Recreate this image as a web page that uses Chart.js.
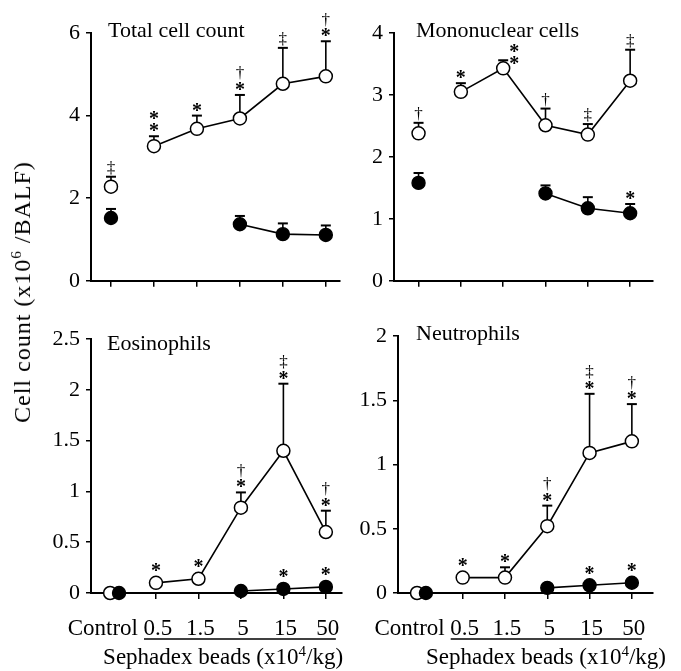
<!DOCTYPE html>
<html>
<head>
<meta charset="utf-8">
<script src="https://cdn.jsdelivr.net/npm/chart.js@4.4.0/dist/chart.umd.min.js"></script>
<style>
  body { margin: 0; background: #fff; }
  #wrap { position: relative; width: 681px; height: 671px; overflow: hidden; background: #fff; }
  #wrap canvas { position: absolute; }
  #ytitle {
    position: absolute; left: 22px; top: 292px;
    transform: translate(-50%, -50%) rotate(-90deg);
    font: 24px "Liberation Serif"; letter-spacing: 1px; white-space: nowrap; color: #000;
  }
  #ytitle sup { font-size: 15px; }
</style>
</head>
<body>
<div id="wrap">
  <canvas id="c1" width="350" height="300" style="left:0;top:0"></canvas>
  <canvas id="c2" width="331" height="300" style="left:350px;top:0"></canvas>
  <canvas id="c3" width="350" height="371" style="left:0;top:300px"></canvas>
  <canvas id="c4" width="331" height="371" style="left:350px;top:300px"></canvas>
  <div id="ytitle">Cell count (x10<sup>6</sup> /BALF)</div>
</div>
<script>
// x categories
var doseLabels = ['Control', '0.5', '1.5', '5', '15', '50'];
var doseIndex = [0, 1, 2, 3, 4, 5];

// total cell count
var totalOpen = [2.28, 3.26, 3.68, 3.93, 4.77, 4.95];
var totalOpenErr = [2.52, 3.50, 4.00, 4.50, 5.64, 5.80];
var totalFilled = [1.52, null, null, 1.37, 1.13, 1.11];
var totalFilledErr = [1.74, null, null, 1.57, 1.39, 1.34];
var totalOpenMarks = ['‡', '**', '*', '†*', '‡', '†*'];
var totalFilledMarks = ['', '', '', '', '', ''];

// mononuclear cells
var monoOpen = [2.38, 3.05, 3.43, 2.51, 2.36, 3.23];
var monoOpenErr = [2.55, 3.19, 3.56, 2.78, 2.53, 3.73];
var monoFilled = [1.58, null, null, 1.41, 1.17, 1.09];
var monoFilledErr = [1.74, null, null, 1.54, 1.35, 1.24];
var monoOpenMarks = ['†', '*', '**', '†', '‡', '‡'];
var monoFilledMarks = ['', '', '', '', '', '*'];

// eosinophils
var eosOpen = [0, 0.10, 0.14, 0.84, 1.40, 0.60];
var eosOpenErr = [null, null, null, 0.99, 2.06, 0.81];
var eosFilled = [0, null, null, 0.02, 0.04, 0.06];
var eosFilledErr = [null, null, null, null, null, null];
var eosOpenMarks = ['', '*', '*', '†*', '‡*', '†*'];
var eosFilledMarks = ['', '', '', '', '*', '*'];

// neutrophils
var neuOpen = [0, 0.12, 0.12, 0.52, 1.09, 1.18];
var neuOpenErr = [null, null, 0.20, 0.68, 1.55, 1.47];
var neuFilled = [0, null, null, 0.04, 0.06, 0.08];
var neuFilledErr = [null, null, null, null, null, null];
var neuOpenMarks = ['', '*', '*', '†*', '‡*', '†*'];
var neuFilledMarks = ['', '', '', '', '*', '*'];

var FONT = '"Liberation Serif", "Times New Roman", serif';
var panelInfo = {};   // canvas id -> extra drawing settings

function points(values, jitter) {
  return values.map(function(v, i) {
    return { x: doseIndex[i] + (i === 0 ? jitter : 0), y: v };
  });
}

function drawSup(ctx, parts, cx, y) {
  // parts: [text, superscript, text]
  ctx.font = '23px ' + FONT;
  var w0 = ctx.measureText(parts[0]).width, w2 = ctx.measureText(parts[2]).width;
  ctx.font = '15px ' + FONT;
  var w1 = ctx.measureText(parts[1]).width;
  var x = cx - (w0 + w1 + w2) / 2;
  ctx.textAlign = 'left';
  ctx.textBaseline = 'alphabetic';
  ctx.font = '23px ' + FONT;
  ctx.fillText(parts[0], x, y);
  ctx.font = '15px ' + FONT;
  ctx.fillText(parts[1], x + w0, y - 8);
  ctx.font = '23px ' + FONT;
  ctx.fillText(parts[2], x + w0 + w1, y);
}

var extras = {
  id: 'extras',
  beforeDatasetsDraw: function(chart) {
    var cfg = panelInfo[chart.canvas.id];
    var ctx = chart.ctx, xs = chart.scales.x, ys = chart.scales.y;
    ctx.save();
    ctx.strokeStyle = '#000';
    cfg.series.forEach(function(s) {
      s.values.forEach(function(v, i) {
        var e = s.err[i];
        if (v == null || e == null) return;
        var px = xs.getPixelForValue(doseIndex[i] + (i === 0 ? s.jitter : 0));
        var py = ys.getPixelForValue(v), pe = ys.getPixelForValue(e);
        ctx.lineWidth = 1.6;
        ctx.beginPath(); ctx.moveTo(px, py); ctx.lineTo(px, pe); ctx.stroke();
        ctx.lineWidth = 2;
        ctx.beginPath(); ctx.moveTo(px - 5, pe); ctx.lineTo(px + 5, pe); ctx.stroke();
      });
    });
    ctx.restore();
  },
  afterDatasetsDraw: function(chart) {
    var cfg = panelInfo[chart.canvas.id];
    var ctx = chart.ctx, xs = chart.scales.x, ys = chart.scales.y, area = chart.chartArea;
    ctx.save();
    ctx.fillStyle = '#000';
    // significance marks above the points
    ctx.textAlign = 'center';
    ctx.textBaseline = 'alphabetic';
    cfg.series.forEach(function(s) {
      s.values.forEach(function(v, i) {
        var m = s.marks[i];
        if (v == null || !m) return;
        var px = xs.getPixelForValue(doseIndex[i] + (i === 0 ? s.jitter : 0));
        var top = s.err[i] != null ? ys.getPixelForValue(s.err[i]) : ys.getPixelForValue(v) - 6.5;
        var cy = top - 9;
        if (s.shift && s.shift.index === i) { px += s.shift.dx; cy += s.shift.dy; }
        for (var k = m.length - 1; k >= 0; k--) {
          var ch = m[k];
          ctx.font = (ch === '*' ? 'bold 20px ' : '17px ') + FONT;
          var tm = ctx.measureText(ch);
          var off = (tm.actualBoundingBoxAscent - tm.actualBoundingBoxDescent) / 2;
          ctx.fillText(ch, px, cy + off);
          cy -= 12.5;
        }
      });
    });
    // panel title
    ctx.font = '22px ' + FONT;
    ctx.textAlign = 'left';
    ctx.fillText(cfg.title, area.left + cfg.titleDx, area.top + cfg.titleDy);
    // dose labels, bracket and axis name under the bottom row
    if (cfg.bottomRow) {
      var yl = area.bottom + 42;
      ctx.font = '23px ' + FONT;
      doseLabels.forEach(function(lab, i) {
        if (i === 0) {
          ctx.textAlign = 'right';
          ctx.fillText(lab, xs.getPixelForValue(doseIndex[1]) - 18, yl);
        } else {
          ctx.textAlign = 'center';
          ctx.fillText(lab, xs.getPixelForValue(doseIndex[i]) + 2, yl);
        }
      });
      var y0 = area.bottom + 46;
      ctx.strokeStyle = '#000';
      ctx.lineWidth = 1.3;
      ctx.beginPath();
      ctx.moveTo(xs.getPixelForValue(1) - 12, y0);
      ctx.lineTo(xs.getPixelForValue(5) + 10, y0);
      ctx.stroke();
      drawSup(ctx, ['Sephadex beads (x10', '4', '/kg)'], xs.getPixelForValue(cfg.nameAt), area.bottom + 71);
    }
    ctx.restore();
  }
};

function makeChart(id, p) {
  panelInfo[id] = {
    title: p.title, titleDx: p.titleDx, titleDy: p.titleDy, bottomRow: p.bottomRow, nameAt: p.nameAt,
    series: [
      { values: p.filled, err: p.filledErr, marks: p.filledMarks, jitter: p.jitter[1], shift: null },
      { values: p.open, err: p.openErr, marks: p.openMarks, jitter: p.jitter[0], shift: p.shift || null }
    ]
  };
  return new Chart(document.getElementById(id), {
    type: 'line',
    data: {
      datasets: [{
        data: points(p.filled, p.jitter[1]),
        borderColor: '#000', borderWidth: 1.6,
        pointRadius: 6.5, pointBackgroundColor: '#000', pointBorderColor: '#000', pointBorderWidth: 1.4,
        spanGaps: false, clip: false, tension: 0
      }, {
        data: points(p.open, p.jitter[0]),
        borderColor: '#000', borderWidth: 1.6,
        pointRadius: 6.5, pointBackgroundColor: '#fff', pointBorderColor: '#000', pointBorderWidth: 1.5,
        segment: {
          borderColor: function(c) { return c.p0DataIndex === 0 ? 'rgba(0,0,0,0)' : '#000'; }
        },
        spanGaps: false, clip: false, tension: 0
      }]
    },
    options: {
      responsive: false,
      animation: false,
      layout: { padding: p.pad },
      plugins: {
        legend: { display: false },
        tooltip: { enabled: false }
      },
      scales: {
        x: {
          type: 'linear', min: p.xmin, max: p.xmax,
          afterBuildTicks: function(s) { s.ticks = doseIndex.map(function(v) { return { value: v }; }); },
          afterFit: function(s) { s.height = p.xHeight; },
          grid: { drawOnChartArea: false, drawTicks: true, tickLength: 6, color: '#000', lineWidth: 1.5 },
          border: { display: true, color: '#000', width: 2 },
          ticks: { display: false }
        },
        y: {
          type: 'linear', min: 0, max: p.ymax,
          afterFit: function(s) { s.width = p.yWidth; },
          grid: { drawOnChartArea: false, drawTicks: true, tickLength: 5, color: '#000', lineWidth: 1.5 },
          border: { display: true, color: '#000', width: 2 },
          ticks: {
            stepSize: p.step, color: '#000', padding: 6, font: { family: FONT, size: 22 },
            callback: function(v) { return String(v); }
          }
        }
      }
    },
    plugins: [extras]
  });
}

makeChart('c1', {
  title: 'Total cell count', titleDx: 17, titleDy: 4,
  open: totalOpen, openErr: totalOpenErr, openMarks: totalOpenMarks,
  filled: totalFilled, filledErr: totalFilledErr, filledMarks: totalFilledMarks,
  ymax: 6, step: 2, xmin: -0.465, xmax: 5.33, yWidth: 91, xHeight: 13,
  pad: { top: 33, right: 10, bottom: 0, left: 0 }, jitter: [0, 0], bottomRow: false
});
makeChart('c2', {
  title: 'Mononuclear cells', titleDx: 22, titleDy: 4,
  open: monoOpen, openErr: monoOpenErr, openMarks: monoOpenMarks,
  filled: monoFilled, filledErr: monoFilledErr, filledMarks: monoFilledMarks,
  ymax: 4, step: 1, xmin: -0.58, xmax: 5.54, yWidth: 44, xHeight: 13,
  pad: { top: 33, right: 28, bottom: 0, left: 0 }, jitter: [0, 0], bottomRow: false,
  shift: { index: 2, dx: 11, dy: 9 }
});
makeChart('c3', {
  title: 'Eosinophils', titleDx: 16, titleDy: 11,
  open: eosOpen, openErr: eosOpenErr, openMarks: eosOpenMarks,
  filled: eosFilled, filledErr: eosFilledErr, filledMarks: eosFilledMarks,
  ymax: 2.5, step: 0.5, xmin: -0.53, xmax: 5.38, yWidth: 91, xHeight: 78,
  pad: { top: 39, right: 8, bottom: 0, left: 0 }, jitter: [-0.08, 0.13], bottomRow: true, nameAt: 2.58
});
makeChart('c4', {
  title: 'Neutrophils', titleDx: 18, titleDy: 4,
  open: neuOpen, openErr: neuOpenErr, openMarks: neuOpenMarks,
  filled: neuFilled, filledErr: neuFilledErr, filledMarks: neuFilledMarks,
  ymax: 2, step: 0.5, xmin: -0.53, xmax: 5.5, yWidth: 48, xHeight: 78,
  pad: { top: 36, right: 28, bottom: 0, left: 0 }, jitter: [-0.08, 0.13], bottomRow: true, nameAt: 2.97
});
</script>
</body>
</html>
